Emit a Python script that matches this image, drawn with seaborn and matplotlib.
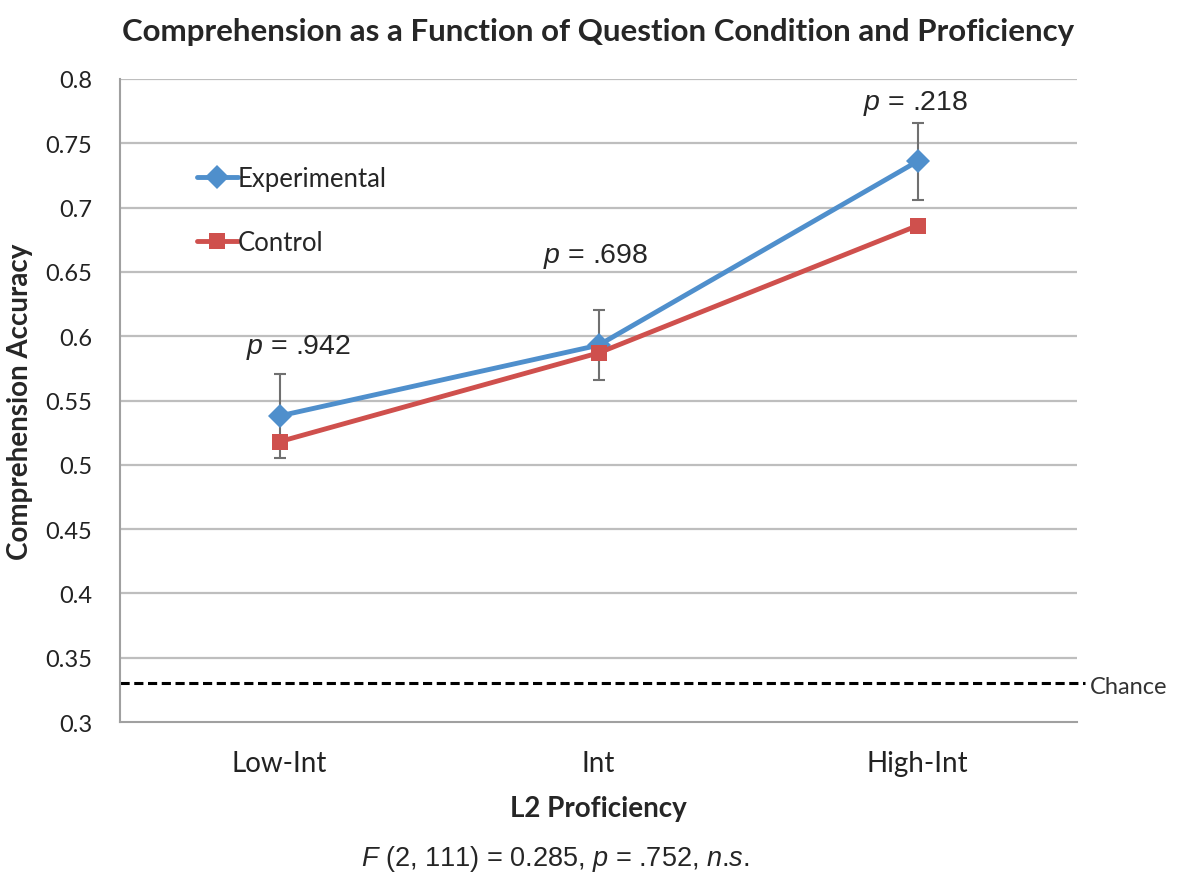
import numpy as np
import pandas as pd
import matplotlib
matplotlib.use('Agg')
import matplotlib.pyplot as plt
import seaborn as sns

# data
levels       = ['Low-Int', 'Int', 'High-Int']
experimental = [0.538, 0.593, 0.736]
control      = [0.518, 0.587, 0.686]
exp_err      = [0.033, 0.027, 0.030]
p_values     = ['.942', '.698', '.218']
p_heights    = [0.592, 0.663, 0.782]
chance       = 0.33
yticks       = [0.3, 0.35, 0.4, 0.45, 0.5, 0.55, 0.6, 0.65, 0.7, 0.75, 0.8]

df = pd.DataFrame({
    'level': levels * 2,
    'x': list(range(len(levels))) * 2,
    'acc': experimental + control,
    'cond': ['Experimental'] * 3 + ['Control'] * 3,
})

sns.set_style('white')
plt.rcParams['font.family'] = ['Lato', 'DejaVu Sans']
plt.rcParams['mathtext.fontset'] = 'custom'
plt.rcParams['mathtext.rm'] = 'Liberation Sans'
plt.rcParams['mathtext.it'] = 'Liberation Sans:italic'

fig = plt.figure(figsize=(11.81, 8.78), dpi=100)
ax = fig.add_axes([0.1016, 0.1765, 0.8104, 0.7324])

blue = '#4F8FCC'
red = '#CF504D'
grid_c = '#BEBEBE'
arial = ['Liberation Sans', 'DejaVu Sans']

for y in yticks[1:]:
    ax.axhline(y, color=grid_c, lw=1.6, zorder=0)

ax.errorbar(range(3), experimental, yerr=exp_err, fmt='none',
            ecolor='#707070', elinewidth=1.5, capsize=4.5, capthick=1.5, zorder=1)

sns.lineplot(data=df, x='x', y='acc', hue='cond', style='cond',
             palette={'Experimental': blue, 'Control': red},
             markers={'Experimental': 'D', 'Control': 's'},
             dashes=False, lw=3.5, markersize=12, markeredgewidth=0,
             ax=ax, zorder=3)

ax.plot([-0.5, 2.525], [chance, chance], color='black', lw=2.2,
        ls=(0, (3, 1.5)), clip_on=False, zorder=2)
ax.text(2.54, chance - 0.002, 'Chance', fontsize=17, va='center', ha='left', color='#333333')

p_shift = [0.06, -0.01, -0.005]
for i, (pv, h) in enumerate(zip(p_values, p_heights)):
    ax.text(i + p_shift[i], h, '$\\it{p}$ = ' + pv, fontsize=20.5, ha='center',
            va='center', family=arial)

ax.set_xlim(-0.5, 2.5)
ax.set_ylim(0.3, 0.8)
ax.set_yticks(yticks)
ax.set_yticklabels([f'{v:g}' for v in yticks], fontsize=17, color='#222222')
ax.set_xticks(range(3))
ax.set_xticklabels(levels, fontsize=20, color='#222222')
ax.set_xticks([-0.5, 0.5, 1.5, 2.5], minor=True)
ax.tick_params(axis='x', which='major', length=0, pad=20)
ax.tick_params(axis='x', which='minor', length=7, width=1.5, color='#A0A0A0', direction='out')
ax.tick_params(axis='y', length=7, width=1.5, color='#A0A0A0', direction='out', pad=13)

for side in ['top', 'right']:
    ax.spines[side].set_visible(False)
for side in ['left', 'bottom']:
    ax.spines[side].set_color('#A0A0A0')
    ax.spines[side].set_linewidth(1.5)

ax.set_xlabel('L2 Proficiency', fontsize=20, fontweight='bold', labelpad=14)
ax.set_ylabel('Comprehension Accuracy', fontsize=20, fontweight='bold', labelpad=9)
ax.set_title('Comprehension as a Function of Question Condition and Proficiency',
             fontsize=22.5, fontweight='bold', pad=28)

leg = ax.legend(loc='upper left', bbox_to_anchor=(0.056, 0.90), frameon=False,
                fontsize=18.5, labelspacing=1.5, handlelength=1.6, handletextpad=0.0,
                title=None)

fig.text(0.47, 0.005, '$\\it{F}$ (2, 111) = 0.285, $\\it{p}$ = .752, $\\it{n}$.$\\it{s}$.',
         fontsize=19.5, ha='center', va='bottom', family=arial)

fig.savefig('out.png', dpi=100)
